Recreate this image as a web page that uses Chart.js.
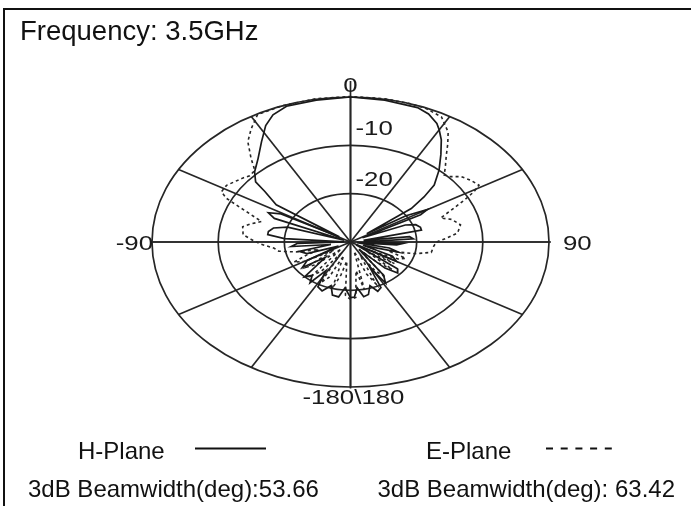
<!DOCTYPE html>
<html>
<head>
<meta charset="utf-8">
<script src="https://cdn.jsdelivr.net/npm/chart.js@4.4.0/dist/chart.umd.min.js"></script>
<style>
  html, body { margin: 0; padding: 0; background: #fff; }
  #wrap { position: relative; width: 691px; height: 506px; overflow: hidden; }
  #frame { position: absolute; left: 3px; top: 8px; width: 720px; height: 540px;
           border-left: 2.5px solid #111; border-top: 2.5px solid #111; }
  canvas { position: absolute; left: 0; top: 0; }
</style>
</head>
<body>
<div id="wrap">
  <div id="frame"></div>
  <canvas id="pattern" width="691" height="506"></canvas>
</div>
<script>
// ===== Data (angle in degrees from boresight, gain in dB) =====
const hAngles = [-180,-175,-171,-166,-162,-157,-152,-148,-144,-140,-136,-130,-126,-120,-115,-110,-104,-100,-96,-92,-88,-86,-83,-80,-76,-72,-69,-67,-64,-61,-58,-55.6,-51,-49,-45,-39,-33,-28,-24,-19,-10,0,10,20,24,28,30,33,37,42,47,50,53,55,57,60,62,64,67,70,74,77,80,83,86,89,92,95,98,102,106,110,115,120,124,128,132,136,140,144,148,151,154,158,162,166,170,174,177,180];
const hGain = [-18.5,-20.5,-18.5,-18.7,-20.5,-19,-19.5,-23,-19.6,-21,-20,-25,-21,-22.5,-28,-23,-22,-27,-21,-22,-29,-20,-17.4,-17.4,-18,-20,-29,-17.5,-16.2,-18,-28,-16.4,-13.3,-11,-9.5,-7.8,-5.3,-2.7,-1.2,-0.3,-0.2,0,-0.2,-0.4,-1.0,-2.2,-3.2,-4.8,-7.3,-10,-12.7,-15.5,-18.5,-27,-20,-16.6,-18,-28,-21,-19.5,-19,-19,-28,-21,-20.5,-28,-22,-23,-29,-24,-22.5,-28,-23,-22,-29,-21,-20.4,-22.5,-28,-21.5,-20,-24,-19.5,-19,-20.5,-18.8,-18.5,-20.5,-18.6,-18.5];

const eAngles = [-180,-176,-172,-168,-164,-160,-156,-152,-148,-144,-140,-136,-132,-128,-124,-120,-116,-112,-108,-104,-100,-96.4,-92,-88,-84.7,-79,-76,-72.5,-67,-64.3,-62,-58,-54.5,-51,-48,-44.3,-41,-36.8,-32.7,-28,-20,-10,0,10,18,22.4,28,33,36,39,43,45.6,48,51,54.8,58.8,60.8,63,66,70,73,77.9,83.4,87,90,94,100,104,108,112,116,120,124,128,132,136,140,144,148,152,156,160,164,168,172,176,180];
const eGain = [-18.1,-19,-26,-23,-20,-27,-22,-20.5,-27,-22.5,-21,-28,-23,-21.5,-27,-22,-20.5,-22.9,-25,-21.5,-19,-18.4,-16.5,-15,-13.7,-13.4,-14.5,-15.9,-12,-9.2,-7.9,-7.9,-8.5,-9,-9.5,-9.3,-7.1,-4.1,-2.2,-0.1,0,0.1,0.1,0.1,0,-0.1,-0.7,-2.9,-5,-7,-9,-10.2,-9.8,-8.5,-7.8,-7.3,-8.6,-10.5,-13,-15.5,-14,-13,-13.7,-15.5,-17,-17.4,-17.6,-20,-24,-21,-22,-26,-22,-27,-21.5,-24,-28,-21,-23,-27,-20.5,-23,-28,-20,-24,-18.5,-18.1];

const dbMin = -30;
const dbMax = 0;
const ringLevels = [-20, -10, 0];
const ringLabels = ["-20", "-10", "0"];
const spokeAngles = [0, 30, 60, 90, 120, 150, 180, 210, 240, 270, 300, 330];

// polar (deg, dB) -> x/y on a unit plot
function toRadius(db) { return (db - dbMin) / (dbMax - dbMin); }
function toPoints(angles, gains) {
    return angles.map((a, i) => {
        const t = a * Math.PI / 180;
        const r = toRadius(gains[i]);
        return { x: r * Math.sin(t), y: r * Math.cos(t) };
    });
}

const FONT = '"Liberation Sans", Arial, sans-serif';

function stretchedText(ctx, text, x, y, align, sx) {
    ctx.save();
    ctx.translate(x, y);
    ctx.scale(sx, 1);
    ctx.textAlign = align;
    ctx.fillText(text, 0, 0);
    ctx.restore();
}

// ===== Grid (ellipses + spokes) =====
const polarGrid = {
    id: 'polarGrid',
    beforeDatasetsDraw(chart) {
        const { ctx, scales: { x, y } } = chart;
        const cx = x.getPixelForValue(0), cy = y.getPixelForValue(0);
        ctx.save();
        ctx.strokeStyle = '#262626';
        ctx.lineWidth = 1.7;
        ringLevels.forEach(db => {
            const r = toRadius(db);
            const rx = x.getPixelForValue(r) - cx;
            const ry = cy - y.getPixelForValue(r);
            ctx.beginPath();
            ctx.ellipse(cx, cy, rx, ry, 0, 0, Math.PI * 2);
            ctx.stroke();
        });
        spokeAngles.forEach(a => {
            const t = a * Math.PI / 180;
            ctx.beginPath();
            ctx.moveTo(cx, cy);
            ctx.lineTo(x.getPixelForValue(Math.sin(t)), y.getPixelForValue(Math.cos(t)));
            ctx.stroke();
        });
        // axis lines run a little past the outer ring
        ctx.beginPath();
        ctx.moveTo(cx, y.getPixelForValue(1.11));
        ctx.lineTo(cx, y.getPixelForValue(-1.01));
        ctx.moveTo(x.getPixelForValue(-1.01), cy);
        ctx.lineTo(x.getPixelForValue(1.01), cy);
        ctx.stroke();
        ctx.restore();
    },
    afterDraw(chart) {
        const { ctx, scales: { x, y } } = chart;
        const cx = x.getPixelForValue(0), cy = y.getPixelForValue(0);
        ctx.save();
        ctx.fillStyle = '#1a1a1a';
        ctx.font = '21px ' + FONT;
        ctx.textBaseline = 'alphabetic';
        // ring labels
        stretchedText(ctx, ringLabels[2], cx, y.getPixelForValue(1) - 5, 'center', 1.23);
        stretchedText(ctx, ringLabels[1], cx + 5, y.getPixelForValue(toRadius(-10)) - 10, 'left', 1.23);
        stretchedText(ctx, ringLabels[0], cx + 5, y.getPixelForValue(toRadius(-20)) - 8, 'left', 1.23);
        // angle labels
        stretchedText(ctx, '-90', x.getPixelForValue(-1) + 1, cy + 8, 'right', 1.23);
        stretchedText(ctx, '90', x.getPixelForValue(1) + 14, cy + 8, 'left', 1.23);
        stretchedText(ctx, '-180\\180', cx + 3, y.getPixelForValue(-1) + 17, 'center', 1.23);

        // title, legend, beamwidth
        ctx.fillStyle = '#111';
        ctx.textAlign = 'left';
        ctx.font = '27.5px ' + FONT;
        ctx.fillText('Frequency: 3.5GHz', 20, 40);
        ctx.font = '24px ' + FONT;
        ctx.fillText('H-Plane', 78, 459);
        ctx.fillText('E-Plane', 426, 459);
        ctx.fillText('3dB Beamwidth(deg):53.66', 28, 497);
        ctx.textAlign = 'right';
        ctx.fillText('3dB Beamwidth(deg): 63.42', 675, 497);

        ctx.strokeStyle = '#111';
        ctx.lineWidth = 2;
        ctx.beginPath();
        ctx.moveTo(195, 448.5); ctx.lineTo(266, 448.5);
        ctx.stroke();
        ctx.setLineDash([7, 7.7]);
        ctx.beginPath();
        ctx.moveTo(546, 448.5); ctx.lineTo(613, 448.5);
        ctx.stroke();
        ctx.restore();
    }
};

new Chart(document.getElementById('pattern'), {
    type: 'scatter',
    data: {
        datasets: [
            {
                label: 'H-Plane',
                data: toPoints(hAngles, hGain),
                showLine: true,
                borderColor: '#1a1a1a',
                borderWidth: 1.7,
                pointRadius: 0,
                tension: 0,
                clip: false
            },
            {
                label: 'E-Plane',
                data: toPoints(eAngles, eGain),
                showLine: true,
                borderColor: '#262626',
                borderWidth: 1.6,
                borderDash: [3, 3],
                pointRadius: 0,
                tension: 0,
                clip: false
            }
        ]
    },
    options: {
        responsive: false,
        animation: false,
        devicePixelRatio: 1,
        layout: { padding: { left: 152, right: 142, top: 97, bottom: 119 } },
        scales: {
            x: { type: 'linear', min: -1, max: 1, display: false },
            y: { type: 'linear', min: -1, max: 1, display: false }
        },
        plugins: { legend: { display: false }, tooltip: { enabled: false } }
    },
    plugins: [polarGrid]
});
</script>
</body>
</html>
